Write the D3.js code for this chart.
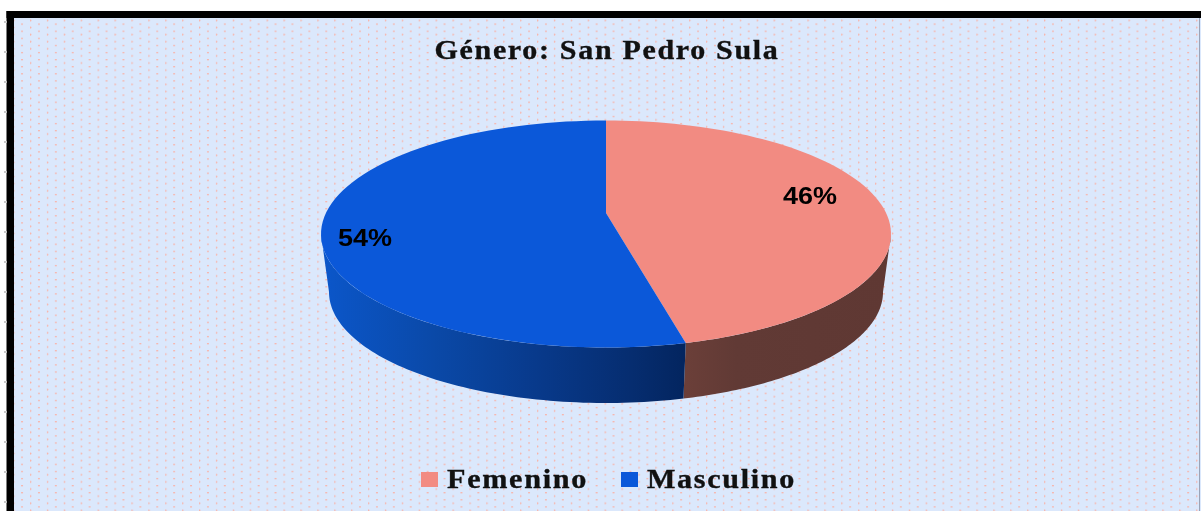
<!DOCTYPE html>
<html><head><meta charset="utf-8">
<script src="https://cdn.jsdelivr.net/npm/d3@7/dist/d3.min.js"></script>
<style>html,body{margin:0;padding:0;background:#fff;overflow:hidden}svg{display:block;filter:blur(0.55px)}</style>
</head><body><svg id="c" width="1201" height="511"></svg>
<script>
const categories = ["Femenino", "Masculino"];
const shares = [0.4625, 0.5375];
const labels = ["46%", "54%"];
const topColors = ["#f28b82", "#0b58d9"];
const chartTitle = "Género: San Pedro Sula";

const W = 1201, H = 511;
const svg = d3.select("#c");
const defs = svg.append("defs");
const pat = defs.append("pattern").attr("id","dots").attr("patternUnits","userSpaceOnUse")
  .attr("width",16.9).attr("height",7.1).attr("x",13.1).attr("y",16.4);
pat.append("rect").attr("width",16.9).attr("height",7.1).attr("fill","#dbe8fc");
[[0,3.55],[8.45,0]].forEach(([x,y])=>{
  pat.append("circle").attr("cx",x+.5).attr("cy",y+.5).attr("r",1).attr("fill","#f9b3a8");
});
const g1 = defs.append("linearGradient").attr("id","wallM").attr("gradientUnits","userSpaceOnUse")
  .attr("x1",325).attr("x2",685).attr("y1",0).attr("y2",0);
[[0,"#0b56c9"],[.3,"#0a49a8"],[.6,"#08398a"],[.85,"#062d70"],[1,"#03255f"]].forEach(([o,c])=>g1.append("stop").attr("offset",o).attr("stop-color",c));
const g2 = defs.append("linearGradient").attr("id","wallF").attr("gradientUnits","userSpaceOnUse")
  .attr("x1",685).attr("x2",889).attr("y1",0).attr("y2",0);
[[0,"#6b3f39"],[.25,"#613a35"],[1,"#5f3833"]].forEach(([o,c])=>g2.append("stop").attr("offset",o).attr("stop-color",c));

svg.append("rect").attr("width",W).attr("height",H).attr("fill","#fff");
svg.append("rect").attr("x",14).attr("y",18).attr("width",W-14).attr("height",H-18).attr("fill","url(#dots)");
svg.append("rect").attr("x",6.5).attr("y",11).attr("width",W-6.5).attr("height",7).attr("fill","#000");
svg.append("rect").attr("x",6.5).attr("y",11).attr("width",7.5).attr("height",H-11).attr("fill","#000");
svg.append("rect").attr("x",1199).attr("y",18).attr("width",1).attr("height",H-18).attr("fill","#9aa4b8");
// faint ruler ticks at the left edge
svg.selectAll("rect.tick").data(d3.range(22,H,30)).join("rect").attr("class","tick")
  .attr("x",4).attr("y",d=>d-1).attr("width",3).attr("height",2).attr("fill","#c8c8c8");

// Perspective projection of the pie disc
const a = -0.185, cx = 606;
const topE = {cy:234, rx:285, ry:113.5}, botE = {cy:292, rx:277, ry:111};
const proj = (e, t) => {
  const u = Math.sin(t), v = -Math.cos(t), d = 1 + a*v;
  return [cx + e.rx*u*Math.sqrt(1-a*a)/d, e.cy + e.ry*(v+a)/d];
};
const arcPts = (e, t0, t1) => d3.range(0,81).map(i => proj(e, t0 + (t1-t0)*i/80));
const lineGen = d3.line();

const pieData = d3.pie().sort(null)(shares);
const seam = pieData[0].endAngle, tR = Math.acos(a), tL = 2*Math.PI - tR;

// side walls
svg.append("path").attr("d", lineGen(arcPts(topE,tR,seam).concat(arcPts(botE,seam,tR))) + "Z").attr("fill","url(#wallF)");
svg.append("path").attr("d", lineGen(arcPts(topE,seam,tL).concat(arcPts(botE,tL,seam))) + "Z").attr("fill","url(#wallM)");

// top face
const apex = [cx, topE.cy + topE.ry*a];
svg.selectAll("path.slice").data(pieData).join("path").attr("class","slice")
  .attr("d", d => lineGen([apex].concat(arcPts(topE,d.startAngle,d.endAngle))) + "Z")
  .attr("fill",(d,i)=>topColors[i]);

// data labels
const labelPos = [[810,204],[365,246]];
svg.selectAll("text.lab").data(labels).join("text").attr("class","lab")
  .attr("x",(d,i)=>labelPos[i][0]).attr("y",(d,i)=>labelPos[i][1])
  .attr("text-anchor","middle").attr("font-family","'Liberation Sans',Arial,sans-serif")
  .attr("font-weight","bold").attr("font-size",24).attr("textLength",54).attr("lengthAdjust","spacingAndGlyphs")
  .attr("fill","#000").text(d=>d);

svg.append("text").attr("x",607).attr("y",59).attr("text-anchor","middle")
  .attr("font-family","'Liberation Serif',serif").attr("font-weight","bold").attr("font-size",27)
  .attr("letter-spacing",1.5).attr("textLength",345).attr("lengthAdjust","spacingAndGlyphs")
  .attr("fill","#111").attr("stroke","#111").attr("stroke-width",0.35).text(chartTitle);

// legend
const swX = [421,621], txX = [447,647], txW = [141,149];
categories.forEach((c,i)=>{
  svg.append("rect").attr("x",swX[i]).attr("y",472).attr("width",17).attr("height",15).attr("fill",topColors[i]);
  svg.append("text").attr("x",txX[i]).attr("y",488).attr("font-family","'Liberation Serif',serif")
    .attr("font-weight","bold").attr("font-size",27).attr("letter-spacing",1.5).attr("textLength",txW[i]).attr("lengthAdjust","spacingAndGlyphs")
    .attr("fill","#111").attr("stroke","#111").attr("stroke-width",0.35).text(c);
});
</script></body></html>
